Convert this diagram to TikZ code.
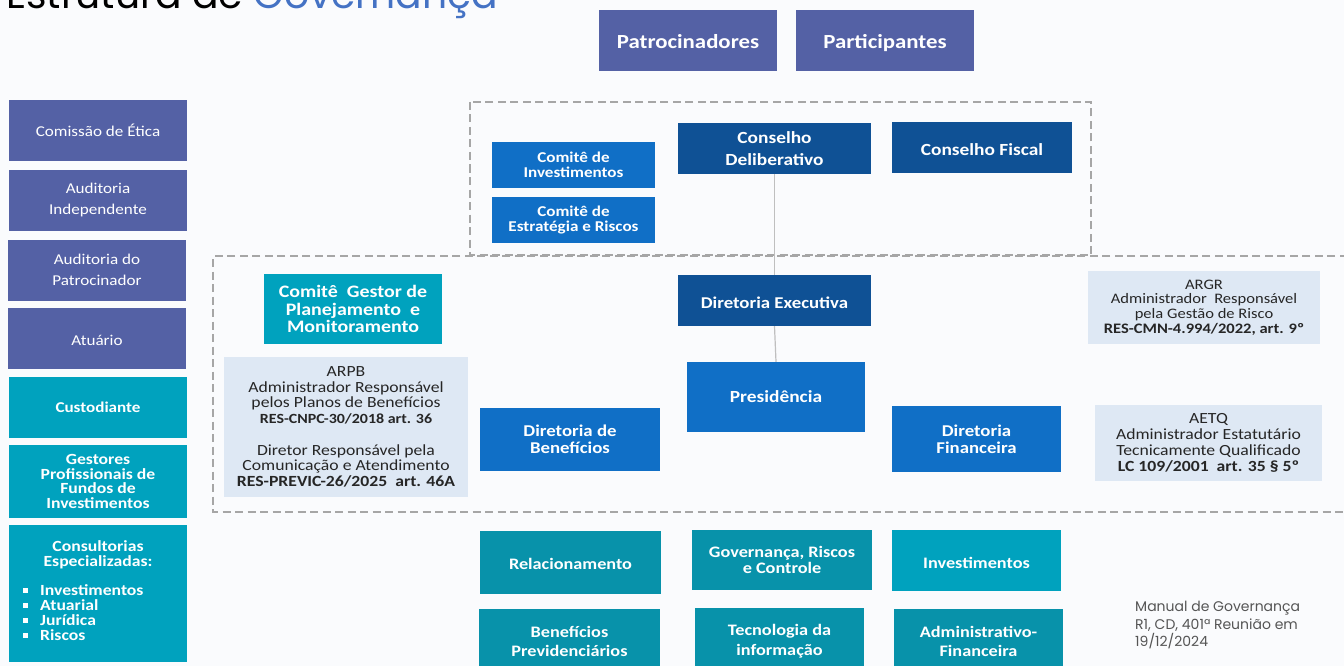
\documentclass[tikz,border=0pt]{standalone}
\usepackage{fontspec}
\setmainfont{Carlito}[FakeStretch=1.14]
\newfontfamily\titlefont{Poppins}
\definecolor{bgc}{HTML}{FAFBFD}
\definecolor{purp}{HTML}{5461A5}
\definecolor{tealA}{HTML}{00A2BE}
\definecolor{tealB}{HTML}{0892AA}
\definecolor{dblue}{HTML}{0F5195}
\definecolor{bblue}{HTML}{106FC6}
\definecolor{lbox}{HTML}{DEE8F4}
\definecolor{ttlblue}{HTML}{4472C4}
\definecolor{dashc}{HTML}{A6A6A6}
\definecolor{notec}{HTML}{555555}
\tikzset{
  box/.style={rectangle, inner sep=0pt, align=center, text=white, font=\bfseries\fontsize{15}{15}\selectfont},
  pbox/.style={box, fill=purp, minimum width=178pt, minimum height=61pt, font=\fontsize{15}{21}\selectfont},
  capc/.style={text height=#1, text depth=0pt},
  dashbox/.style={draw=dashc, line width=1.4pt, dash pattern=on 8pt off 4.5pt},
  infobox/.style={rectangle, inner sep=0pt, align=center, fill=lbox, text=black!85},
  conn/.style={draw=black!25, line width=1.2pt}
}
\begin{document}
\begin{tikzpicture}[x=1pt,y=-1pt]
\useasboundingbox (0,0) rectangle (1344,666);
\fill[bgc] (0,0) rectangle (1344,666);
\begin{scope}
\clip (0,0) rectangle (1344,666);
% title
\node[anchor=base west, inner sep=0pt, font=\titlefont\fontsize{39.3}{40}\selectfont] (title) at (6,8.5) {Estrutura de \textcolor{ttlblue}{Governança}};
% dashed regions
\draw[dashbox] (470,102) rectangle (1091,255);
\draw[dashbox] (1360,256) -- (213,256) -- (213,512) -- (1360,512);
% top
\node[box, capc=16.6pt, fill=purp, minimum width=178pt, minimum height=61pt, font=\bfseries\fontsize{20}{20}\selectfont] (pat) at (688,40.5) {Patrocinadores};
\node[box, capc=15.6pt, fill=purp, minimum width=178pt, minimum height=61pt, font=\bfseries\fontsize{20}{20}\selectfont] (par) at (885,40.5) {Participantes};
% left column
\node[pbox, capc=11.5pt] (etica) at (98,130.5) {Comissão de Ética};
\node[pbox] (audind) at (98,200) {Auditoria\\Independente};
\node[pbox] (audpat) at (97,270) {Auditoria do\\Patrocinador};
\node[pbox, capc=13.5pt] (atuario) at (97,338.5) {Atuário};
\node[box, capc=9.5pt, fill=tealA, minimum width=178pt, minimum height=61pt] (custod) at (98,407.5) {Custodiante};
\node[box, fill=tealA, minimum width=178pt, minimum height=73pt, font=\bfseries\fontsize{15.5}{14.5}\selectfont] (gestores) at (98,481.5) {Gestores\\Profissionais de\\Fundos de\\Investimentos};
\node[box, fill=tealA, minimum width=178pt, minimum height=137pt] (consult) at (98,593.5) {};
\node[box, font=\bfseries\fontsize{15.5}{15}\selectfont] (consultT) at (98,555) {Consultorias\\Especializadas:};
\node[box, anchor=north west, align=left, font=\bfseries\fontsize{15.5}{15}\selectfont] (consultL) at (23,584) {%
\raisebox{2.5pt}{\rule{5pt}{5pt}}\hspace{12pt}Investimentos\\
\raisebox{2.5pt}{\rule{5pt}{5pt}}\hspace{12pt}Atuarial\\
\raisebox{2.5pt}{\rule{5pt}{5pt}}\hspace{12pt}Jurídica\\
\raisebox{2.5pt}{\rule{5pt}{5pt}}\hspace{12pt}Riscos};
% upper council area
\node[box, fill=bblue, minimum width=163pt, minimum height=46pt] (cominv) at (573.5,165) {Comitê de\\Investimentos};
\node[box, fill=bblue, minimum width=163pt, minimum height=46pt] (comest) at (573.5,220) {Comitê de\\Estratégia e Riscos};
\node[box, fill=dblue, minimum width=193pt, minimum height=51pt, font=\bfseries\fontsize{17}{22}\selectfont] (cdel) at (774.5,148.5) {Conselho\\Deliberativo};
\node[box, capc=15.7pt, fill=dblue, minimum width=180pt, minimum height=51pt, font=\bfseries\fontsize{17}{22}\selectfont] (cfis) at (982,147.5) {Conselho Fiscal};
% executive area
\node[box, fill=tealA, minimum width=178pt, minimum height=70pt, font=\bfseries\fontsize{17.5}{17.5}\selectfont] (cgestor) at (353,309) {Comitê\ \ Gestor de\\Planejamento\ \ e\\Monitoramento};
\node[infobox, minimum width=244pt, minimum height=140pt, font=\fontsize{15.5}{15.5}\selectfont] (arpb) at (346,427) {ARPB\\Administrador Responsável\\pelos Planos de Benefícios\\{\bfseries\fontsize{14}{15.5}\selectfont RES-CNPC-30/2018 art. 36}\\[16.5pt]Diretor Responsável pela\\Comunicação e Atendimento\\\textbf{RES-PREVIC-26/2025\ \ art. 46A}};
\node[box, capc=15.4pt, fill=dblue, minimum width=193pt, minimum height=51pt, font=\bfseries\fontsize{16.5}{16.5}\selectfont] (dexec) at (774.5,300.5) {Diretoria Executiva};
\node[box, capc=10.7pt, fill=bblue, minimum width=178pt, minimum height=70pt, font=\bfseries\fontsize{17}{17}\selectfont] (pres) at (776,397) {Presidência};
\node[box, fill=bblue, minimum width=180pt, minimum height=63pt, font=\bfseries\fontsize{16.5}{17}\selectfont] (dben) at (570,439.5) {Diretoria de\\Benefícios};
\node[box, fill=bblue, minimum width=169pt, minimum height=66pt, font=\bfseries\fontsize{16.5}{17}\selectfont] (dfin) at (976.5,439) {Diretoria\\Financeira};
\node[infobox, minimum width=232pt, minimum height=73pt, font=\fontsize{14.5}{14.7}\selectfont] (argr) at (1204,307.5) {ARGR\\Administrador\ \ Responsável\\pela Gestão de Risco\\\textbf{RES-CMN-4.994/2022, art. 9º}};
\node[infobox, minimum width=227pt, minimum height=76pt, font=\fontsize{15.5}{16}\selectfont] (aetq) at (1208.5,443) {AETQ\\Administrador Estatutário\\Tecnicamente Qualificado\\\textbf{LC 109/2001\ \ art. 35 § 5º}};
\draw[conn] (cdel.south) -- (dexec.north);
\draw[conn] (dexec.south) -- (pres.north);
% bottom areas
\node[box, capc=14.1pt, fill=tealB, minimum width=181pt, minimum height=63pt, font=\bfseries\fontsize{16}{16}\selectfont] (rel) at (570.5,562.5) {Relacionamento};
\node[box, fill=tealB, minimum width=180pt, minimum height=60pt, font=\bfseries\fontsize{16}{16}\selectfont] (gov) at (782,560) {Governança, Riscos\\e Controle};
\node[box, capc=16pt, fill=tealA, minimum width=169pt, minimum height=61pt, font=\bfseries\fontsize{16}{16}\selectfont] (inv) at (976.5,560.5) {Investimentos};
\node[box, fill=tealB, minimum width=181pt, minimum height=64pt, font=\bfseries\fontsize{16}{19}\selectfont] (benprev) at (569.5,641) {Benefícios\\Previdenciários};
\node[box, fill=tealB, minimum width=169pt, minimum height=66pt, font=\bfseries\fontsize{16}{20.5}\selectfont] (tec) at (779.5,641) {Tecnologia da\\informação};
\node[box, fill=tealB, minimum width=169pt, minimum height=66pt, font=\bfseries\fontsize{16}{19}\selectfont] (adm) at (978.5,641.5) {Administrativo-\\Financeira};
% note
\node[anchor=north west, inner sep=0pt, align=left, text=notec, font=\titlefont\fontsize{14}{17.5}\selectfont] (note) at (1135,601) {Manual de Governança\\R1, CD, 401ª Reunião em\\19/12/2024};
\end{scope}
\end{tikzpicture}
\end{document}
